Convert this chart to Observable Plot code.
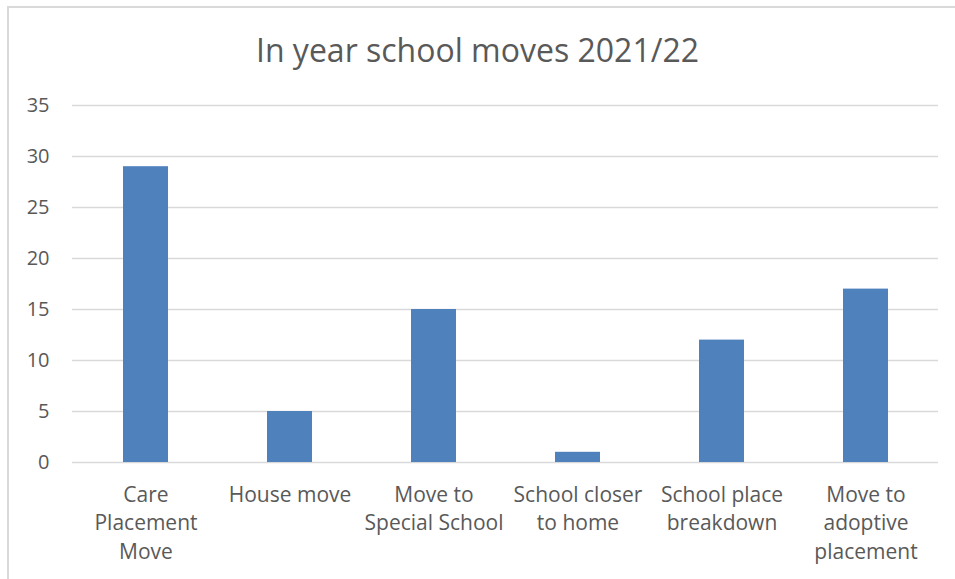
<!DOCTYPE html>
<html>
<head>
<meta charset="utf-8">
<script src="https://cdn.jsdelivr.net/npm/d3@7"></script>
<script src="https://cdn.jsdelivr.net/npm/@observablehq/plot@0.6"></script>
<style>
  html, body { margin: 0; padding: 0; background: #fff; }
  #wrap { position: relative; width: 955px; height: 579px; overflow: hidden; font-family: "Open Sans", sans-serif; }
  #frame { position: absolute; left: 7px; top: 6px; width: 960px; height: 600px; border: 2px solid #d9d9d9; box-sizing: border-box; }
  #title { position: absolute; left: 0; top: 0; width: 955px; height: 90px; text-align: center; line-height: 100px; font-size: 32px; color: #595959; }
  #chart { position: absolute; left: 0; top: 90px; }
</style>
</head>
<body>
<div id="wrap">
  <div id="frame"></div>
  <div id="title">In year school moves 2021/22</div>
  <div id="chart"></div>
</div>
<script>
const categories = [
  "Care\nPlacement\nMove",
  "House move",
  "Move to\nSpecial School",
  "School closer\nto home",
  "School place\nbreakdown",
  "Move to\nadoptive\nplacement"
];
const values = [29, 5, 15, 1, 12, 17];
const yTicks = [0, 5, 10, 15, 20, 25, 30, 35];

const data = categories.map((c, i) => ({category: c, value: values[i]}));

const chart = Plot.plot({
  width: 955,
  height: 489,
  marginTop: 15,
  marginBottom: 117,
  marginLeft: 72,
  marginRight: 17,
  style: { fontFamily: "Open Sans, sans-serif", fontSize: "20px", color: "#595959", background: "transparent" },
  x: { domain: categories, paddingInner: 0.69, paddingOuter: 0.345 },
  y: { domain: [0, 35] },
  marks: [
    Plot.gridY(yTicks, { stroke: "#d9d9d9", strokeWidth: 1.5, strokeOpacity: 1 }),
    Plot.barY(data, { x: "category", y: "value", fill: "#4f81bd" }),
    Plot.axisY(yTicks, { tickSize: 0, tickPadding: 23, label: null, fill: "#595959", fontSize: 20 }),
    Plot.axisX({ tickSize: 0, tickPadding: 19, label: null, lineHeight: 1.36, fill: "#595959", fontSize: 21 })
  ]
});
document.getElementById("chart").appendChild(chart);
</script>
</body>
</html>
